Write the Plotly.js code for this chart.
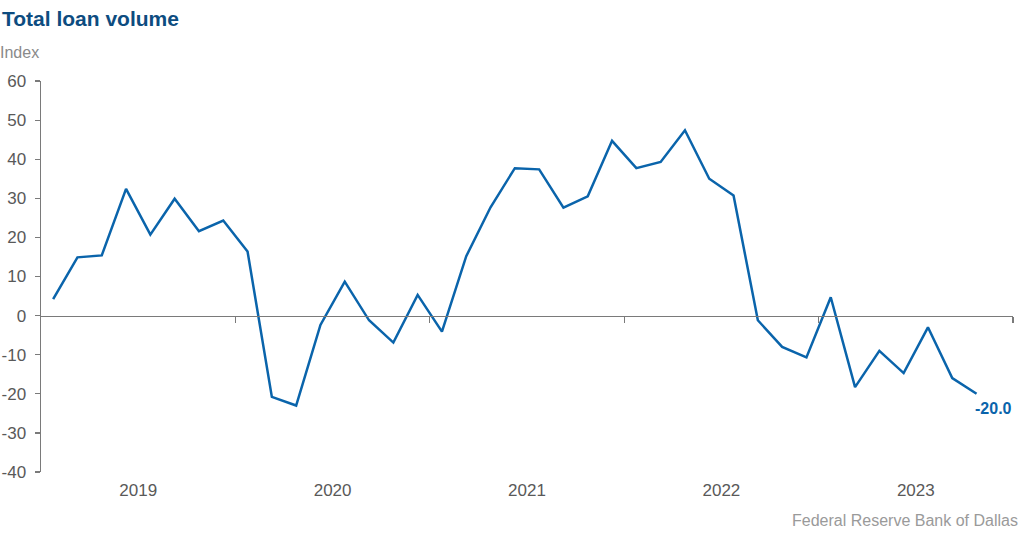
<!DOCTYPE html>
<html>
<head>
<meta charset="utf-8">
<script src="https://cdn.plot.ly/plotly-3.0.1.min.js"></script>
<style>html,body{margin:0;padding:0;background:#fff;}#chart{width:1030px;height:536px;}</style>
</head>
<body>
<div id="chart"></div>
<script>
// Survey index values (8 surveys per year), 2019 through mid-2023
const years = ["2019", "2020", "2021", "2022", "2023"];
const surveysPerYear = 8;
const loanVolume = [
  4.2, 14.9, 15.4, 32.4, 20.7, 29.9, 21.6, 24.3,
  16.4, -20.8, -23.0, -2.4, 8.7, -1.2, -6.9, 5.3,
  -4.1, 15.2, 27.7, 37.7, 37.4, 27.6, 30.5, 44.7,
  37.7, 39.3, 47.4, 35.0, 30.7, -1.2, -8.0, -10.7,
  4.7, -18.3, -9.0, -14.7, -3.0, -16.0, -20.0
];
const yTicks = [-40, -30, -20, -10, 0, 10, 20, 30, 40, 50, 60];
const yTickText = ["-40", "-30", "-20", "-10", "0", "10", "20", "30", "40", "50", "60"];

const xIdx = loanVolume.map((_, i) => i);
const yearCenters = years.map((_, i) => i * surveysPerYear + (surveysPerYear - 1) / 2);
const yearBounds = years.map((_, i) => (i + 1) * surveysPerYear - 0.5);
const xRange = [-0.5, years.length * surveysPerYear - 0.5];
const lastIdx = loanVolume.length - 1;
const lineColor = "#0a64ab";
const axisGray = "#7a7a7a";

const traces = [
  {
    x: xIdx, y: loanVolume, type: "scatter", mode: "lines",
    line: {color: lineColor, width: 2.5}, hoverinfo: "skip", showlegend: false
  },
  {
    x: xIdx, y: loanVolume, xaxis: "x2", type: "scatter", mode: "lines",
    line: {color: "rgba(0,0,0,0)", width: 0}, hoverinfo: "skip", showlegend: false
  }
];

const layout = {
  width: 1030, height: 536,
  margin: {l: 41, r: 17, t: 81, b: 64},
  paper_bgcolor: "#ffffff", plot_bgcolor: "#ffffff",
  font: {family: "Liberation Sans, Arial, sans-serif", color: "#595959", size: 17},
  showlegend: false,
  xaxis: {
    range: xRange, showgrid: false, zeroline: false, showline: false,
    tickmode: "array", tickvals: yearCenters, ticktext: years,
    ticks: "", ticklabelstandoff: 6,
    tickfont: {size: 17, color: "#595959"}, fixedrange: true
  },
  xaxis2: {
    overlaying: "x", anchor: "free", position: 0.4, side: "bottom",
    range: xRange, showgrid: false, zeroline: false,
    showline: true, linecolor: axisGray, linewidth: 1.5,
    tickmode: "array", tickvals: yearBounds, ticks: "outside",
    ticklen: 6, tickwidth: 1.2, tickcolor: axisGray, showticklabels: false
  },
  yaxis: {
    range: [-40, 60], showgrid: false, zeroline: false,
    showline: true, linecolor: axisGray, linewidth: 1.5,
    tickmode: "array", tickvals: yTicks, ticktext: yTickText, ticks: "outside",
    ticklen: 5, tickwidth: 1.2, tickcolor: axisGray,
    ticklabelstandoff: 5,
    tickfont: {size: 17, color: "#595959"}, fixedrange: true
  },
  title: {text: ""},
  annotations: [
    {
      text: "<b>Total loan volume</b>", xref: "paper", yref: "paper",
      x: 0, y: 1, xanchor: "left", yanchor: "top",
      xshift: -41, yshift: 81 - 5, showarrow: false,
      font: {size: 21, color: "#0d4c80", family: "Liberation Sans, Arial, sans-serif"}
    },
    {
      text: "Index", xref: "paper", yref: "paper",
      x: 0, y: 1, xanchor: "left", yanchor: "top",
      xshift: -43, yshift: 81 - 42, showarrow: false,
      font: {size: 16, color: "#8a8a8a"}
    },
    {
      text: "Federal Reserve Bank of Dallas", xref: "paper", yref: "paper",
      x: 1, y: 0, xanchor: "right", yanchor: "top",
      xshift: 7, yshift: -38, showarrow: false,
      font: {size: 16, color: "#9a9a9a"}
    },
    {
      text: "<b>" + loanVolume[lastIdx].toFixed(1) + "</b>", xref: "x", yref: "y",
      x: lastIdx, y: loanVolume[lastIdx], xanchor: "left", yanchor: "top",
      xshift: -4, yshift: -4, showarrow: false,
      font: {size: 16, color: lineColor}
    }
  ]
};

Plotly.newPlot("chart", traces, layout, {displayModeBar: false, staticPlot: true});
</script>
</body>
</html>
